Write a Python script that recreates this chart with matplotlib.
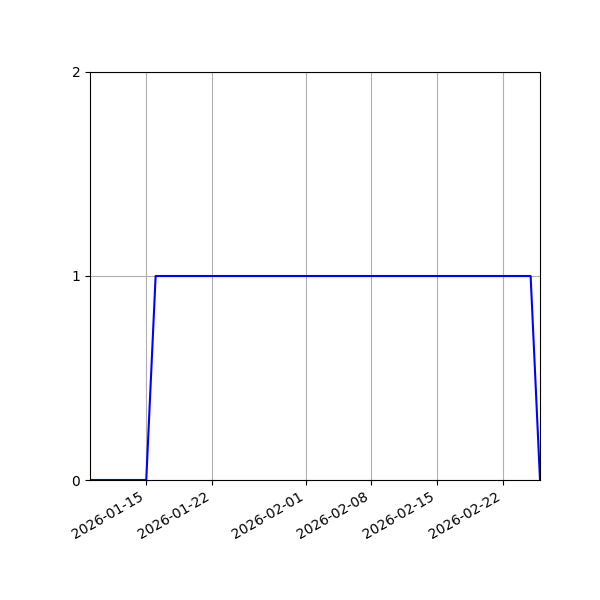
import matplotlib
matplotlib.use("Agg")
import matplotlib.pyplot as plt
import matplotlib.dates as mdates
import pandas as pd

dates = pd.date_range("2026-01-09", "2026-02-26", freq="D")
values = [0, 0, 0, 0, 0, 0, 0,
          1, 1, 1, 1, 1, 1, 1, 1, 1, 1, 1, 1, 1, 1, 1, 1,
          1, 1, 1, 1, 1, 1, 1, 1, 1, 1, 1, 1, 1, 1, 1, 1,
          1, 1, 1, 1, 1, 1, 1, 1, 1,
          0]
yticks = [0, 1, 2]
xticks = ["2026-01-15", "2026-01-22", "2026-02-01", "2026-02-08", "2026-02-15", "2026-02-22"]

fig = plt.figure(figsize=(6, 6), dpi=100)
ax = fig.add_axes([0.15, 0.2, 0.75, 0.68])
ax.plot(dates, values, color="blue")
ax.set_xlim(dates[0], dates[-1])
ax.set_ylim(0, 2)
ax.set_yticks(yticks)
ax.set_xticks(pd.to_datetime(xticks))
ax.xaxis.set_major_formatter(mdates.DateFormatter("%Y-%m-%d"))
ax.grid(True)
for lbl in ax.get_xticklabels():
    lbl.set_rotation(30)
    lbl.set_ha("right")
fig.savefig("out.png", dpi=100)
